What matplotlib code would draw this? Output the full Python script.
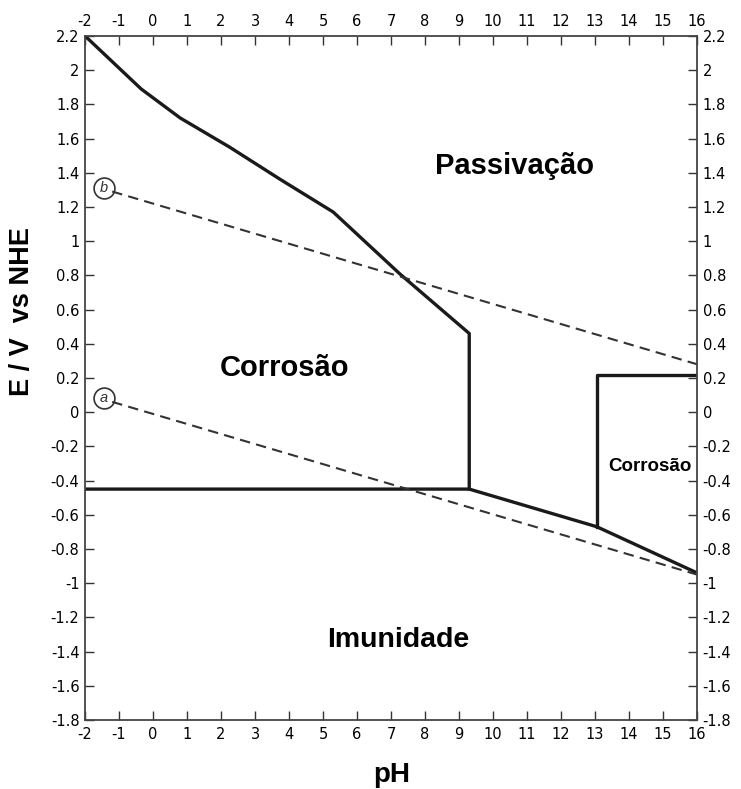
import matplotlib.pyplot as plt

plt.rcParams['font.family'] = ['Liberation Sans', 'DejaVu Sans']
plt.rcParams['axes.unicode_minus'] = False

# Fronteiras (linhas cheias) do diagrama E-pH
fronteira1_ph = [-2, -0.35, 0.8, 2.25, 3.75, 5.3, 7.25, 9.3, 9.3]
fronteira1_e = [2.2, 1.89, 1.72, 1.55, 1.36, 1.17, 0.81, 0.46, -0.45]

fronteira2_ph = [-2, 9.3, 13.05, 16]
fronteira2_e = [-0.45, -0.45, -0.67, -0.94]

fronteira3_ph = [13.05, 13.05, 16]
fronteira3_e = [-0.67, 0.22, 0.22]

# Linhas tracejadas da agua (a e b)
linha_b_ph = [-1.2, 16]
linha_b_e = [1.29, 0.28]
linha_a_ph = [-1.2, 16]
linha_a_e = [0.06, -0.95]

circ_ph = [-1.45, -1.45]
circ_e = [1.31, 0.08]
circ_txt = ['b', 'a']

xticks = list(range(-2, 17))
yticks = [2.2, 2, 1.8, 1.6, 1.4, 1.2, 1, 0.8, 0.6, 0.4, 0.2, 0,
          -0.2, -0.4, -0.6, -0.8, -1, -1.2, -1.4, -1.6, -1.8]
ytick_labels = ['2.2', '2', '1.8', '1.6', '1.4', '1.2', '1', '0.8', '0.6', '0.4', '0.2', '0',
                '-0.2', '-0.4', '-0.6', '-0.8', '-1', '-1.2', '-1.4', '-1.6', '-1.8']

fig = plt.figure(figsize=(7.41, 7.89), dpi=100)
ax = fig.add_axes([0.1147, 0.0875, 0.826, 0.867])

ax.plot(fronteira1_ph, fronteira1_e, color='#1a1a1a', linewidth=2.4, solid_joinstyle='round')
ax.plot(fronteira2_ph, fronteira2_e, color='#1a1a1a', linewidth=2.4, solid_joinstyle='round')
ax.plot(fronteira3_ph, fronteira3_e, color='#1a1a1a', linewidth=2.4, solid_joinstyle='round')

ax.plot(linha_b_ph, linha_b_e, color='#333333', linewidth=1.5, linestyle=(0, (5, 3)))
ax.plot(linha_a_ph, linha_a_e, color='#333333', linewidth=1.5, linestyle=(0, (5, 3)))

ax.plot(circ_ph, circ_e, linestyle='none', marker='o', markersize=15,
        markerfacecolor='none', markeredgecolor='#333333', markeredgewidth=1.2)
for px, py, t in zip(circ_ph, circ_e, circ_txt):
    ax.text(px, py, t, ha='center', va='center', fontsize=10.5, style='italic', color='#333333')

ax.text(10.62, 1.44, 'Passivação', fontsize=21, fontweight='bold', ha='center', va='center')
ax.text(3.88, 0.26, 'Corrosão', fontsize=21, fontweight='bold', ha='center', va='center')
ax.text(14.6, -0.32, 'Corrosão', fontsize=13.5, fontweight='bold', ha='center', va='center')
ax.text(7.2, -1.33, 'Imunidade', fontsize=20.5, fontweight='bold', ha='center', va='center')

ax.set_xlim(-2, 16)
ax.set_ylim(-1.8, 2.2)
ax.set_xticks(xticks)
ax.set_yticks(yticks)
ax.set_yticklabels(ytick_labels)

ax.tick_params(axis='both', which='major', direction='in', length=6.5, width=1,
               labelsize=10.5, top=True, right=True, labeltop=True, labelright=True,
               colors='#333333', labelcolor='black')
ax.tick_params(axis='x', pad=5)
ax.tick_params(axis='y', pad=4)
for lbl in ax.get_xticklabels() + ax.get_yticklabels():
    lbl.set_family('DejaVu Sans')

for spine in ax.spines.values():
    spine.set_linewidth(1.3)
    spine.set_color('#444444')

fig.text(0.03, 0.605, 'E / V  vs NHE', rotation=90, fontsize=19.5, fontweight='bold',
         ha='center', va='center')
fig.text(0.529, 0.018, 'pH', fontsize=20, fontweight='bold', ha='center', va='center')

fig.savefig('out.png', dpi=100)
